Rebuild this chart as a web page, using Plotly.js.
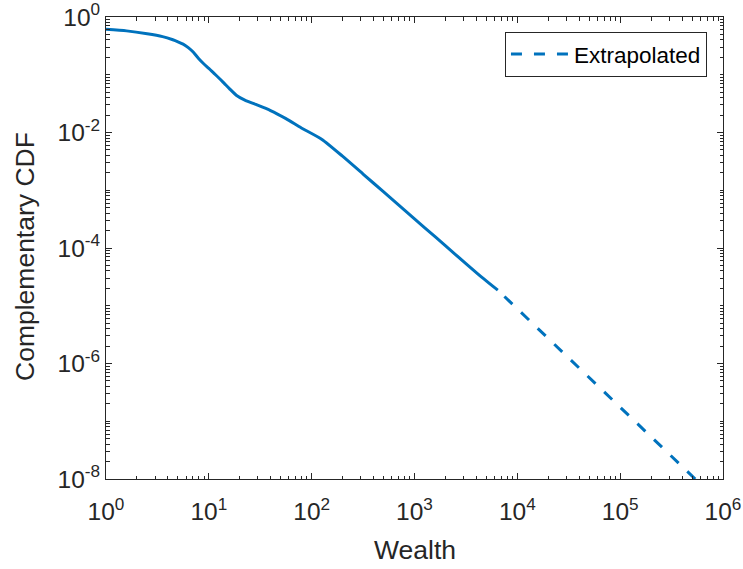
<!DOCTYPE html>
<html>
<head>
<meta charset="utf-8">
<script src="https://cdn.plot.ly/plotly-3.0.1.min.js"></script>
<style>
  html, body { margin: 0; padding: 0; background: #ffffff; }
  #chart { width: 743px; height: 569px; }
</style>
</head>
<body>
<div id="chart"></div>
<script>
// Empirical complementary CDF of wealth (solid) and its power-law tail extension (dashed)
const wealth = [1, 1.585, 2.512, 3.548, 4.467, 5.012, 5.623, 6.310, 7.079, 7.943, 8.913, 10, 11.22,
  12.59, 14.13, 15.85, 18.62, 22.39, 28.18, 39.81, 56.23, 79.43, 125.9, 199.5, 316.2, 501.2,
  794.3, 1259, 1995, 3162, 4467, 6457];
const ccdf = [0.612, 0.575, 0.513, 0.457, 0.403, 0.372, 0.339, 0.295, 0.245, 0.191, 0.155, 0.129,
  0.106, 0.0871, 0.0708, 0.0575, 0.0437, 0.0363, 0.0309, 0.0240, 0.0174, 0.0120, 0.00759,
  0.00389, 0.00191, 9.33e-4, 4.57e-4, 2.24e-4, 1.10e-4, 5.37e-5, 3.16e-5, 1.86e-5];

// tail listed from its far end so the dash pattern starts at the lower axis
const extrapWealth = [5.37e5, 6457];
const extrapCcdf = [1.0e-8, 1.86e-5];

const xTickVals = [1, 10, 100, 1000, 1e4, 1e5, 1e6];
const xTickText = ['10<sup>0</sup>', '10<sup>1</sup>', '10<sup>2</sup>', '10<sup>3</sup>',
  '10<sup>4</sup>', '10<sup>5</sup>', '10<sup>6</sup>'];
const yTickVals = [1e-8, 1e-6, 1e-4, 1e-2, 1];
const yTickText = ['10<sup>-8</sup>', '10<sup>-6</sup>', '10<sup>-4</sup>', '10<sup>-2</sup>', '10<sup>0</sup>'];

// unlabelled ticks at 2..9 within each decade (plus the odd decades on y)
function minorTicks(fromExp, toExp, withDecades) {
  const out = [];
  for (let e = fromExp; e < toExp; e++) {
    if (withDecades && e % 2 !== 0) out.push(Math.pow(10, e));
    for (let k = 2; k <= 9; k++) out.push(k * Math.pow(10, e));
  }
  return out;
}

const axisColor = '#262626';
const lineBlue = '#0072BD';
const fontFamily = '"Liberation Sans", Arial, Helvetica, sans-serif';
const tickFontSize = 24.5;
const labelFontSize = 26.5;

const traces = [
  {
    x: wealth, y: ccdf, type: 'scatter', mode: 'lines',
    line: { color: lineBlue, width: 3, shape: 'spline', smoothing: 0.6 },
    showlegend: false, hoverinfo: 'x+y'
  },
  {
    x: extrapWealth, y: extrapCcdf, type: 'scatter', mode: 'lines',
    name: 'Extrapolated',
    line: { color: lineBlue, width: 3, dash: '11px,12px' }
  }
];

const layout = {
  width: 743, height: 569,
  margin: { l: 106, r: 20, t: 17, b: 90 },
  paper_bgcolor: '#ffffff', plot_bgcolor: '#ffffff',
  font: { family: fontFamily, size: tickFontSize, color: axisColor },
  showlegend: true,
  legend: {
    x: 0.974, y: 0.968, xanchor: 'right', yanchor: 'top',
    bgcolor: '#ffffff', bordercolor: axisColor, borderwidth: 1,
    font: { family: fontFamily, size: 22.5, color: '#000000' },
    itemwidth: 58
  },
  xaxis: {
    type: 'log', range: [0, 6], autorange: false,
    tickmode: 'array', tickvals: xTickVals, ticktext: xTickText,
    ticks: 'inside', ticklen: 6, tickwidth: 1, tickcolor: axisColor,
    ticklabelstandoff: 11, ticklabeloverflow: 'allow',
    showline: true, linecolor: axisColor, linewidth: 1, mirror: 'ticks',
    showgrid: false, zeroline: false,
    tickfont: { family: fontFamily, size: tickFontSize, color: axisColor },
    minor: { tickmode: 'array', tickvals: minorTicks(0, 6, false), ticks: 'inside', ticklen: 3.5,
             tickwidth: 1, tickcolor: axisColor, showgrid: false }
  },
  yaxis: {
    type: 'log', range: [-8, 0], autorange: false,
    tickmode: 'array', tickvals: yTickVals, ticktext: yTickText,
    ticks: 'inside', ticklen: 6, tickwidth: 1, tickcolor: axisColor,
    ticklabeloverflow: 'allow',
    showline: true, linecolor: axisColor, linewidth: 1, mirror: 'ticks',
    showgrid: false, zeroline: false,
    tickfont: { family: fontFamily, size: tickFontSize, color: axisColor },
    minor: { tickmode: 'array', tickvals: minorTicks(-8, 0, true), ticks: 'inside', ticklen: 3.5,
             tickwidth: 1, tickcolor: axisColor, showgrid: false }
  },
  annotations: [
    {
      text: 'Wealth', xref: 'paper', yref: 'paper', x: 0.5, y: 0,
      xanchor: 'center', yanchor: 'middle', yshift: -71, showarrow: false,
      font: { family: fontFamily, size: labelFontSize, color: axisColor }
    },
    {
      text: 'Complementary CDF', xref: 'paper', yref: 'paper', x: 0, y: 0.5,
      xanchor: 'center', yanchor: 'middle', xshift: -81, yshift: -9, textangle: -90,
      showarrow: false,
      font: { family: fontFamily, size: labelFontSize, color: axisColor }
    }
  ]
};

Plotly.newPlot('chart', traces, layout, { displayModeBar: false, staticPlot: true });
</script>
</body>
</html>
